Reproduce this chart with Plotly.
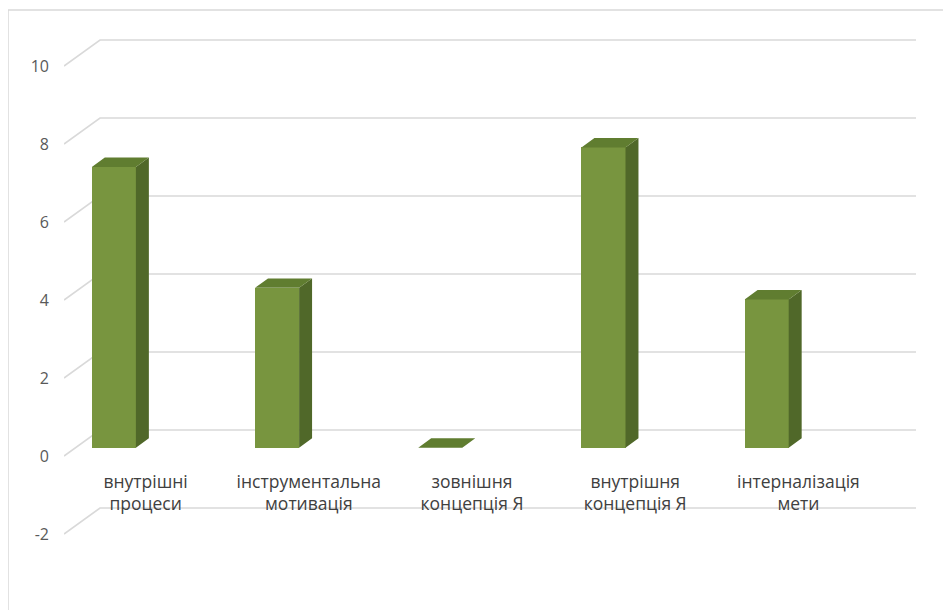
import plotly.graph_objects as go

# ---- data ----
categories = ["внутрішні<br>процеси", "інструментальна<br>мотивація",
              "зовнішня<br>концепція Я", "внутрішня<br>концепція Я",
              "інтерналізація<br>мети"]
values = [7.2, 4.1, 0.0, 7.7, 3.8]
y_ticks = [-2, 0, 2, 4, 6, 8, 10]
y_tick_text = ["-2", "0", "2", "4", "6", "8", "10"]

# ---- pseudo-3D geometry (data units) ----
DX, DY = 0.2206, 0.6667      # full depth offset of the back wall
F0, F1 = 0.32, 0.68          # bar front / back depth fractions
BAR_W = 0.27
BAR_OFF = -0.265

FRONT = "#78953f"
SIDE = "#506829"
TOP = "#607d30"
GRID = "#d9d9d9"

n = len(categories)
x_idx = list(range(n))
X0, X1 = -0.5, n - 0.5

fig = go.Figure()

# walls: side-wall diagonals + back-wall gridlines (base axes, drawn below)
gx, gy = [], []
for v in y_ticks:
    gx += [X0, X0 + DX, X1 + DX, None]
    gy += [v, v + DY, v + DY, None]
fig.add_trace(go.Scatter(x=gx, y=gy, mode="lines",
                         line=dict(color=GRID, width=1.6),
                         hoverinfo="skip", showlegend=False))

# bar front faces (overlay axes, drawn above the walls)
bx = [i + BAR_OFF + F0 * DX for i in x_idx]
base = F0 * DY
fig.add_trace(go.Bar(x=bx, y=values, base=base, width=BAR_W,
                     marker=dict(color=FRONT, line=dict(width=0)),
                     xaxis="x2", yaxis="y2", showlegend=False))

# side and top faces
d = F1 - F0
sx, sy, tx, ty = [], [], [], []
for xc, v in zip(bx, values):
    xr = xc + BAR_W / 2
    xl = xc - BAR_W / 2
    sx += [xr, xr + d * DX, xr + d * DX, xr, xr, None]
    sy += [base, base + d * DY, base + d * DY + v, base + v, base, None]
    t = base + v
    tx += [xl, xr, xr + d * DX, xl + d * DX, xl, None]
    ty += [t, t, t + d * DY, t + d * DY, t, None]
fig.add_trace(go.Scatter(x=sx, y=sy, mode="lines", fill="toself",
                         fillcolor=SIDE, line=dict(width=0, color=SIDE),
                         xaxis="x2", yaxis="y2",
                         hoverinfo="skip", showlegend=False))
fig.add_trace(go.Scatter(x=tx, y=ty, mode="lines", fill="toself",
                         fillcolor=TOP, line=dict(width=0, color=TOP),
                         xaxis="x2", yaxis="y2",
                         hoverinfo="skip", showlegend=False))

# page body has an 8px margin: size the figure so it fits the window
W, H = 943, 602
L = 56
PX_PER_CAT = 163.2
PX_PER_UNIT = 39.0
Y0_PX = 448.0

x_range = [X0, X0 + (W - L) / PX_PER_CAT]
y_range = [(Y0_PX - H) / PX_PER_UNIT, Y0_PX / PX_PER_UNIT]

fig.update_layout(
    width=W, height=H,
    margin=dict(l=L, r=0, t=0, b=0),
    paper_bgcolor="white", plot_bgcolor="white",
    font=dict(family="Open Sans, sans-serif"),
    bargap=0,
    xaxis=dict(range=x_range,
               anchor="free", position=(H - 461) / H,
               showgrid=False, zeroline=False, showline=False,
               ticks="", tickvals=x_idx, ticktext=categories,
               tickfont=dict(size=17.5, color="#404040"),
               automargin=False, fixedrange=True),
    yaxis=dict(range=y_range,
               showgrid=False, zeroline=False, showline=False,
               ticks="", tickvals=y_ticks, ticktext=y_tick_text,
               tickfont=dict(size=16, color="#595959"),
               ticklabelstandoff=14,
               automargin=False, fixedrange=True),
    xaxis2=dict(range=x_range, overlaying="x", visible=False,
                fixedrange=True),
    yaxis2=dict(range=y_range, overlaying="y", visible=False,
                fixedrange=True),
    shapes=[dict(type="rect", xref="paper", yref="paper",
                 x0=(0 - L) / (W - L), x1=1.05,
                 y0=-0.05, y1=(H - 2) / H,
                 line=dict(color=GRID, width=1.5), layer="below")],
)

fig.write_html("out.html")
